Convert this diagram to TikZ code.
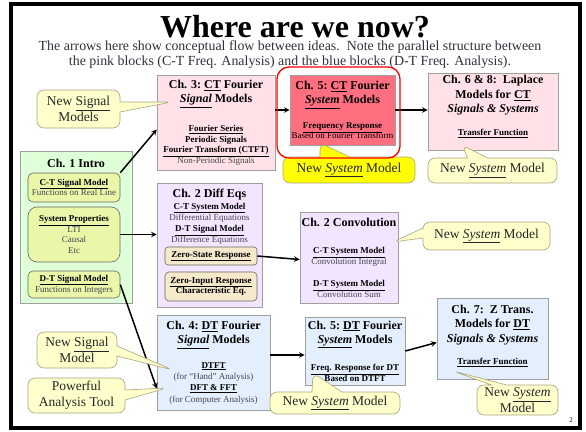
\documentclass[tikz,border=0pt]{standalone}
\usepackage{fontspec}
\setmainfont{Liberation Serif}
\usepackage{tikz}
\usetikzlibrary{shapes.callouts,arrows,calc}

\definecolor{pinkbox}{HTML}{FFE1E7}
\definecolor{redbox}{HTML}{FF6F80}
\definecolor{greenbox}{HTML}{DEFFD8}
\definecolor{limebox}{HTML}{EAF6A8}
\definecolor{lilacbox}{HTML}{F3E5FF}
\definecolor{tanbox}{HTML}{F6E8CA}
\definecolor{bluebox}{HTML}{E3EFFD}
\definecolor{notefill}{HTML}{FFFFCC}
\definecolor{noteline}{HTML}{A8A47C}
\definecolor{hotyellow}{HTML}{FFFF00}
\definecolor{bodytxt}{HTML}{30303C}
\definecolor{greytxt}{HTML}{45454F}

\newcommand{\chhead}{\fontsize{12}{14.5}\selectfont\bfseries}
\newcommand{\chsmall}{\fontsize{9}{10.5}\selectfont}
\newcommand{\ult}[1]{\underline{#1}}
\newcommand{\chtext}[2]{\parbox{#1}{\centering #2\par}}

\begin{document}
\begin{tikzpicture}[x=1pt, y=-1pt,
    chbox/.style={rectangle, draw=gray!75, line width=0.6pt, inner sep=0pt, text=black},
    subbox/.style={rectangle, draw=black!60, line width=0.6pt, rounded corners=5pt, inner sep=0pt, font=\fontsize{9}{10.8}\selectfont, text=greytxt},
    note/.style={rectangle callout, draw=noteline, fill=notefill, line width=0.6pt, rounded corners=7pt, align=center, inner sep=1pt, font=\fontsize{13.5}{16}\selectfont, text=black!85},
    arrow/.style={->, >=stealth, line width=1.5pt}
]
    \useasboundingbox (0,0) rectangle (586,431);
    % Frame and heading
    \draw[line width=4pt] (10.5,4) rectangle (579.5,428);
    \node[font=\fontsize{32}{32}\selectfont\bfseries, inner sep=0pt] (title) at (295,27) {Where are we now?};
    \node[font=\fontsize{13.9}{14.6}\selectfont, text=bodytxt, align=center, inner sep=0pt] (subtitle) at (290,54.5)
        {The arrows here show conceptual flow between ideas.\ \ Note the parallel structure between\\
         the pink blocks (C-T Freq. Analysis) and the blue blocks (D-T Freq. Analysis).};

    % CT row
    \node[chbox, fill=pinkbox, minimum width=118, minimum height=95] (ch3) at (216,122.5)
        {\chtext{116pt}{\chhead Ch. 3:\ \ult{CT} Fourier\\ \ult{\textit{Signal}} Models\par\vspace{17pt}
         \chsmall \ult{Fourier Series}\\ Periodic Signals\\ \ult{Fourier Transform (CTFT)}\\
         {\mdseries\color{greytxt}Non-Periodic Signals}}};
    \node[chbox, fill=redbox, minimum width=105, minimum height=70] (ch5ct) at (342.5,110)
        {\chtext{105pt}{\chhead Ch. 5:\ \ult{CT} Fourier\\ \ult{\textit{System}} Models\par\vspace{14pt}
         \chsmall \ult{Frequency Response}\\ \mdseries Based on Fourier Transform}};
    \node[chbox, fill=pinkbox, minimum width=130, minimum height=77] (ch68) at (493,111.5)
        {\chtext{128pt}{\chhead Ch. 6 \& 8:\ \ Laplace\\ Models for \ult{CT}\\ \textit{Signals \& Systems}\par\vspace{12pt}
         \chsmall \ult{Transfer Function}\par\vspace{10pt}}};

    % Intro block
    \node[chbox, fill=greenbox, minimum width=112, minimum height=152] (intro) at (76,227) {};
    \node[font=\chhead] (introhd) at (76,163) {Ch. 1 Intro};
    \node[subbox, fill=limebox, minimum width=92, minimum height=29] (ctsig) at (74,187.5)
        {\chtext{90pt}{\bfseries\color{black}\ult{C-T Signal Model}\\ {\mdseries\color{greytxt}Functions on Real Line}}};
    \node[subbox, fill=limebox, rounded corners=9pt, minimum width=92, minimum height=55] (sysprop) at (74,234.5)
        {\chtext{90pt}{{\bfseries\color{black}\ult{System Properties}}\\ LTI\\ Causal\\ Etc}};
    \node[subbox, fill=limebox, minimum width=92, minimum height=27] (dtsig) at (74,284.5)
        {\chtext{90pt}{\bfseries\color{black}\ult{D-T Signal Model}\\ {\mdseries\color{greytxt}Functions on Integers}}};

    % Time-domain blocks
    \node[chbox, fill=lilacbox, minimum width=105, minimum height=124] (ch2de) at (209.5,245) {};
    \node[anchor=north, inner sep=0pt] (ch2detxt) at ([yshift=-6pt]ch2de.north)
        {\chtext{103pt}{\chhead Ch. 2 Diff Eqs\par\vspace{1pt}
         \fontsize{9}{11}\selectfont \ult{C-T System Model}\\ {\mdseries\color{greytxt}Differential Equations}\\
         \ult{D-T Signal Model}\\ {\mdseries\color{greytxt}Difference Equations}}};
    \node[subbox, fill=tanbox, rounded corners=3pt, minimum width=92, minimum height=18] (zsr) at (211,256)
        {\bfseries\color{black}\ult{Zero-State Response}};
    \node[subbox, fill=tanbox, rounded corners=4pt, minimum width=92, minimum height=29] (zir) at (211,286.5)
        {\chtext{90pt}{\bfseries\color{black}\ult{Zero-Input Response}\\ Characteristic Eq.}};
    \node[chbox, fill=lilacbox, minimum width=98, minimum height=91] (conv) at (349,257.5)
        {\chtext{96pt}{\chhead Ch. 2 Convolution\par\vspace{17pt}
         \chsmall \ult{C-T System Model}\\ {\mdseries\color{greytxt}Convolution Integral}\par\vspace{12pt}
         \ult{D-T System Model}\\ {\mdseries\color{greytxt}Convolution Sum}}};

    % DT row
    \node[chbox, fill=bluebox, minimum width=113, minimum height=95] (ch4) at (213.5,362.5)
        {\chtext{111pt}{\chhead Ch. 4:\ \ult{DT} Fourier\\ \ult{\textit{Signal}} Models\par\vspace{13pt}
         \fontsize{9}{11.3}\selectfont \ult{DTFT}\\ {\mdseries\color{greytxt}(for “Hand” Analysis)}\\
         \ult{DFT \& FFT}\\ {\mdseries\color{greytxt}(for Computer Analysis)}}};
    \node[chbox, fill=bluebox, minimum width=100, minimum height=68] (ch5dt) at (355,351)
        {\chtext{98pt}{\chhead Ch. 5:\ \ult{DT} Fourier\\ \ult{\textit{System}} Models\par\vspace{15pt}
         \chsmall \ult{Freq. Response for DT}\\ Based on DTFT}};
    \node[chbox, fill=bluebox, minimum width=111, minimum height=81] (ch7) at (492.5,338.5)
        {\chtext{109pt}{\chhead Ch. 7:\ \ Z Trans.\\ Models for \ult{DT}\\ \textit{Signals \& Systems}\par\vspace{12pt}
         \chsmall \ult{Transfer Function}\par\vspace{5pt}}};

    % Arrows
    \draw[arrow] (ctsig.north east) -- ([yshift=-7pt]ch3.west);
    \draw[arrow] (ch3.east |- ch5ct.west) -- (ch5ct.west);
    \draw[arrow] (ch5ct.east) -- (ch5ct.east -| ch68.west);
    \draw[arrow] (sysprop.east) -- (sysprop.east -| ch2de.west);
    \draw[arrow] (zsr.east) -- ([yshift=-2pt]conv.west);
    \draw[arrow] (dtsig.east) -- ([yshift=-26pt]ch4.west);
    \draw[arrow] ([yshift=-4pt]ch4.east |- ch5dt.west) -- ([yshift=-4pt]ch5dt.west);
    \draw[arrow] (ch5dt.east) -- ([yshift=-4pt]ch7.west);

    % Callouts
    \coordinate (tip3) at (172,102);
    \coordinate (tip5ct) at (320,143);
    \coordinate (tip68) at (462,145);
    \coordinate (tipconv) at (393,242);
    \coordinate (tip4a) at (173,370);
    \coordinate (tip4b) at (167,388);
    \coordinate (tip5dt) at (313,373);
    \coordinate (tip7) at (453,371);
    \node[note, callout absolute pointer=(tip3), callout pointer width=10pt, minimum width=83, minimum height=38] (nsig1) at (78.5,109)
        {New \ult{Signal}\\ Models};
    \node[note, fill=hotyellow, callout absolute pointer=(tip5ct), callout pointer width=30pt, minimum width=132, minimum height=26] (nsys1) at (349,170)
        {New \ult{\textit{System}} Model};
    \node[note, callout absolute pointer=(tip68), callout pointer width=20pt, minimum width=129, minimum height=25] (nsys2) at (492.5,170.5)
        {New \ult{\textit{System}} Model};
    \node[note, callout absolute pointer=(tipconv), callout pointer width=10pt, minimum width=127, minimum height=28] (nsys3) at (486.5,236)
        {New \ult{\textit{System}} Model};
    \node[note, callout absolute pointer=(tip4a), callout pointer width=10pt, minimum width=80, minimum height=36] (nsig2) at (77,350)
        {New \ult{Signal}\\ Model};
    \node[note, callout absolute pointer=(tip4b), callout pointer width=10pt, minimum width=97, minimum height=35] (tool) at (76.5,395.5)
        {Powerful\\ Analysis Tool};
    \node[note, callout absolute pointer=(tip5dt), callout pointer width=30pt, minimum width=130, minimum height=22] (nsys4) at (335,403)
        {New \ult{\textit{System}} Model};
    \node[note, callout absolute pointer=(tip7), callout pointer width=15pt, minimum width=81, minimum height=30] (nsys5) at (517.5,400)
        {New \ult{\textit{System}}\\ Model};

    % Highlight
    \node[draw=red, line width=1.3pt, rounded corners=12pt, minimum width=123, minimum height=91] (focus) at (338.5,112.5) {};
    \node[font=\fontsize{7}{8}\selectfont] (pagenum) at (571,420) {2};
\end{tikzpicture}
\end{document}
